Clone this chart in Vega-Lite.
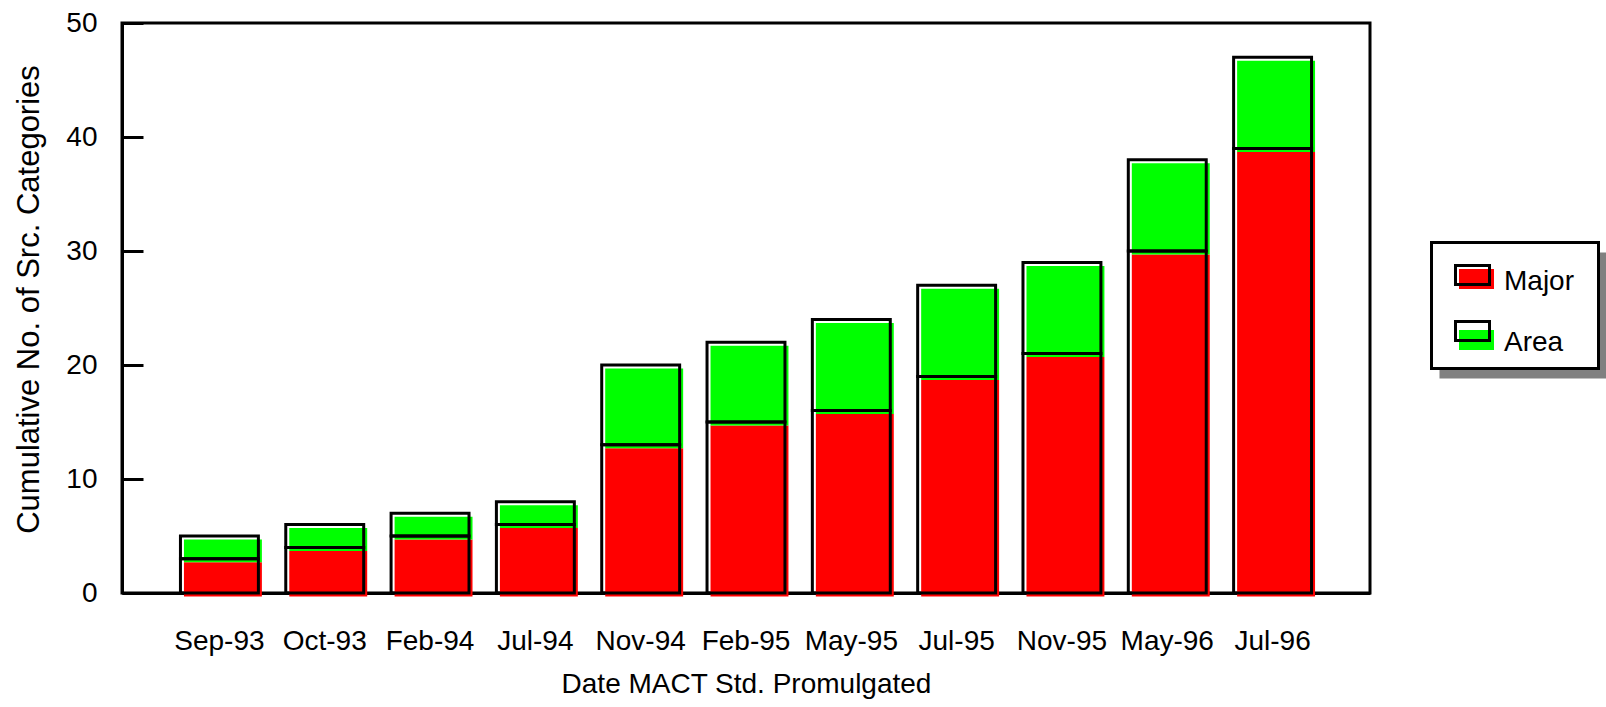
{
  "$schema": "https://vega.github.io/schema/vega-lite/v6.json",
  "width": 1248,
  "height": 570,
  "autosize": {"type": "none"},
  "padding": {"left": 122, "top": 23, "right": 236, "bottom": 114},
  "background": "white",
  "config": {
    "font": "Liberation Sans",
    "view": {"stroke": "black", "strokeWidth": 3},
    "axis": {
      "grid": false,
      "domainColor": "black",
      "domainWidth": 3,
      "tickColor": "black",
      "tickWidth": 3,
      "labelColor": "black",
      "labelFontSize": 28,
      "titleColor": "black",
      "titleFontSize": 28,
      "titleFontWeight": "normal",
      "zindex": 1
    },
    "legend": {
      "orient": "none",
      "title": null,
      "padding": 12,
      "labelFontSize": 28,
      "labelColor": "black",
      "labelOffset": 32.5,
      "rowPadding": 20,
      "symbolSize": 400
    }
  },
  "data": {
    "values": [
      {"date": "Sep-93", "series": "Major", "count": 3},
      {"date": "Sep-93", "series": "Area", "count": 2},
      {"date": "Oct-93", "series": "Major", "count": 4},
      {"date": "Oct-93", "series": "Area", "count": 2},
      {"date": "Feb-94", "series": "Major", "count": 5},
      {"date": "Feb-94", "series": "Area", "count": 2},
      {"date": "Jul-94", "series": "Major", "count": 6},
      {"date": "Jul-94", "series": "Area", "count": 2},
      {"date": "Nov-94", "series": "Major", "count": 13},
      {"date": "Nov-94", "series": "Area", "count": 7},
      {"date": "Feb-95", "series": "Major", "count": 15},
      {"date": "Feb-95", "series": "Area", "count": 7},
      {"date": "May-95", "series": "Major", "count": 16},
      {"date": "May-95", "series": "Area", "count": 8},
      {"date": "Jul-95", "series": "Major", "count": 19},
      {"date": "Jul-95", "series": "Area", "count": 8},
      {"date": "Nov-95", "series": "Major", "count": 21},
      {"date": "Nov-95", "series": "Area", "count": 8},
      {"date": "May-96", "series": "Major", "count": 30},
      {"date": "May-96", "series": "Area", "count": 8},
      {"date": "Jul-96", "series": "Major", "count": 39},
      {"date": "Jul-96", "series": "Area", "count": 8}
    ]
  },
  "encoding": {
    "x": {
      "field": "date",
      "type": "nominal",
      "sort": null,
      "scale": {"paddingInner": 0.26, "paddingOuter": 0.555},
      "axis": {
        "title": "Date MACT Std. Promulgated",
        "labelAngle": 0,
        "ticks": false,
        "labelPadding": 34,
        "titlePadding": 15
      }
    },
    "y": {
      "field": "count",
      "type": "quantitative",
      "stack": "zero",
      "scale": {"domain": [0, 50], "nice": false},
      "axis": {
        "title": "Cumulative No. of Src. Categories",
        "titleFontSize": 31,
        "titleY": 276,
        "values": [0, 10, 20, 30, 40, 50],
        "tickSize": -21,
        "labelPadding": 46,
        "titlePadding": 20
      }
    },
    "order": {"field": "series", "sort": "descending"}
  },
  "layer": [
    {
      "mark": {"type": "bar"},
      "encoding": {
        "opacity": {
          "field": "series",
          "type": "nominal",
          "scale": {"domain": ["Area", "Major"], "range": [0, 0]},
          "legend": {
            "legendX": 1317.5,
            "legendY": 229.5,
            "values": ["Major", "Area"],
            "fillColor": "#808080",
            "labelColor": "transparent",
            "symbolType": "M0.15,0.05H3.65V2.05H0.15ZM12.9,2.7",
            "symbolFillColor": "transparent",
            "symbolStrokeColor": "transparent"
          }
        }
      }
    },
    {
      "mark": {"type": "bar", "xOffset": 3.5, "yOffset": 3.5, "y2Offset": 3.5},
      "encoding": {
        "fill": {
          "field": "series",
          "type": "nominal",
          "scale": {"domain": ["Major", "Area"], "range": ["#ff0000", "#00ff00"]},
          "legend": {
            "legendX": 1309.5,
            "legendY": 219.5,
            "fillColor": "white",
            "strokeColor": "black",
            "symbolType": "M0.15,0.05H3.65V2.05H0.15ZM12.9,0",
            "symbolStrokeWidth": 0,
            "encode": {
              "legend": {"update": {"strokeWidth": {"value": 3}}},
              "labels": {"update": {"dy": {"value": 13}}}
            }
          }
        }
      }
    },
    {
      "mark": {"type": "bar", "fill": "transparent", "strokeWidth": 3, "strokeJoin": "miter"},
      "encoding": {
        "stroke": {
          "field": "series",
          "type": "nominal",
          "scale": {"domain": ["Major", "Area", "-"], "range": ["black", "black", "black"]},
          "legend": {
            "legendX": 1309.5,
            "legendY": 219.5,
            "values": ["Major", "Area"],
            "labelColor": "transparent",
            "symbolType": "M-0.2,-0.3H3.2V1.6H-0.2ZM12.9,0",
            "symbolFillColor": "transparent",
            "symbolStrokeColor": "black",
            "symbolStrokeWidth": 3,
            "encode": {"labels": {"update": {"dy": {"value": 13}}}}
          }
        }
      }
    }
  ]
}
